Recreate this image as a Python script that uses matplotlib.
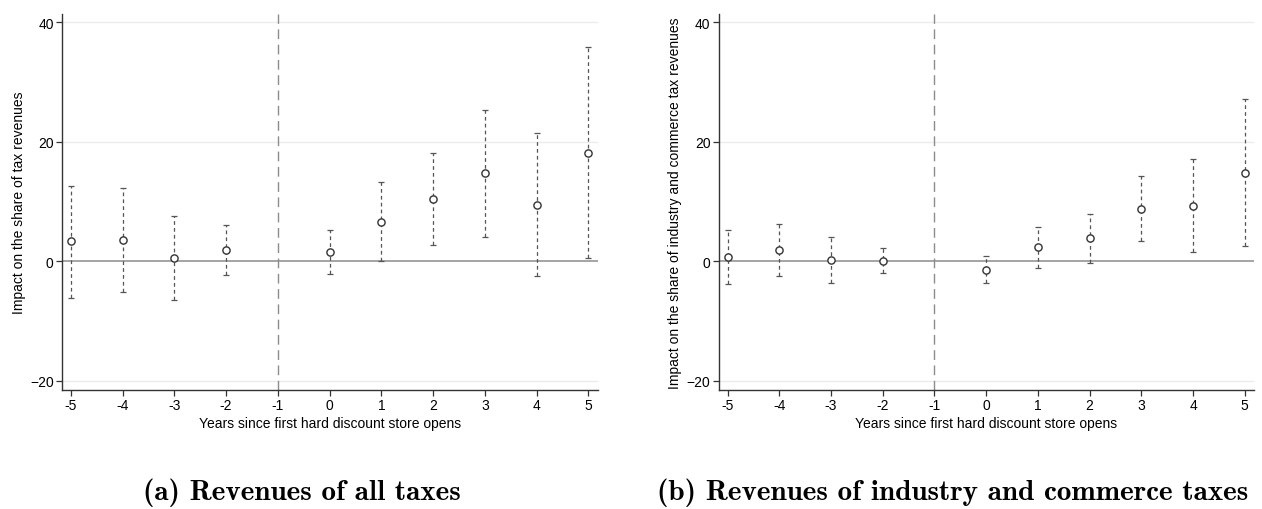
import numpy as np
import matplotlib.pyplot as plt

# Event time
years = np.array([-5, -4, -3, -2, 0, 1, 2, 3, 4, 5])

# (a) all taxes
est_a = np.array([3.35, 3.55, 0.6, 1.9, 1.5, 6.6, 10.4, 14.7, 9.5, 18.2])
lo_a = np.array([-6.1, -5.2, -6.4, -2.3, -2.1, 0.1, 2.7, 4.0, -2.5, 0.55])
hi_a = np.array([12.65, 12.2, 7.5, 6.0, 5.2, 13.2, 18.2, 25.4, 21.4, 35.9])

# (b) industry and commerce taxes
est_b = np.array([0.67, 1.95, 0.2, 0.05, -1.4, 2.4, 3.9, 8.75, 9.3, 14.8])
lo_b = np.array([-3.85, -2.4, -3.7, -1.95, -3.7, -1.07, -0.28, 3.35, 1.56, 2.6])
hi_b = np.array([5.2, 6.3, 4.1, 2.2, 0.9, 5.8, 8.0, 14.2, 17.1, 27.1])

ylabels = ["Impact on the share of tax revenues",
           "Impact on the share of industry and commerce tax revenues"]
captions = ["(a) Revenues of all taxes",
            "(b) Revenues of industry and commerce taxes"]

plt.rcParams['font.family'] = ['Liberation Sans', 'DejaVu Sans']

fig = plt.figure(figsize=(12.62, 5.10), dpi=100)
ax_a = fig.add_axes([0.0491, 0.2339, 0.4245, 0.7367])
ax_b = fig.add_axes([0.5695, 0.2339, 0.4242, 0.7367])

panels = [(ax_a, est_a, lo_a, hi_a), (ax_b, est_b, lo_b, hi_b)]

for i, (ax, est, lo, hi) in enumerate(panels):
    for y in [-20, 20, 40]:
        ax.axhline(y, color='#ececec', lw=1, zorder=0)
    ax.axhline(0, color='#8c8c8c', lw=1.1, zorder=1)
    ax.axvline(-1, color='#8c8c8c', lw=1.0, ls=(0, (7, 4)), zorder=1)

    eb = ax.errorbar(years, est, yerr=[est - lo, hi - est], fmt='none',
                     ecolor='#555555', elinewidth=0.9, capsize=2.0,
                     capthick=0.9, zorder=2)
    eb[2][0].set_linestyle((0, (3, 2.5)))
    ax.plot(years, est, 'o', ms=5.2, mfc='white', mec='#333333', mew=1.0,
            zorder=3)

    ax.set_xlim(-5.17, 5.18)
    ax.set_ylim(-21.5, 41.4)
    ax.set_xticks(np.arange(-5, 6))
    ax.set_yticks([-20, 0, 20, 40])
    ax.set_xticklabels([str(t) for t in range(-5, 6)])
    ax.spines['top'].set_visible(False)
    ax.spines['right'].set_visible(False)
    for s in ['left', 'bottom']:
        ax.spines[s].set_color('#333333')
        ax.spines[s].set_linewidth(1.0)
    ax.tick_params(direction='out', length=4, width=0.9, color='#333333',
                   labelsize=10, pad=2)
    ax.set_xlabel("Years since first hard discount store opens", fontsize=10,
                  labelpad=3)
    ax.set_ylabel(ylabels[i], fontsize=10, labelpad=3)

fig.text(0.2393, 0.02, captions[0], ha='center', va='baseline',
         family='cmb10', fontsize=21)
fig.text(0.7545, 0.02, captions[1], ha='center', va='baseline',
         family='cmb10', fontsize=21)

fig.savefig('out.png', dpi=100)
